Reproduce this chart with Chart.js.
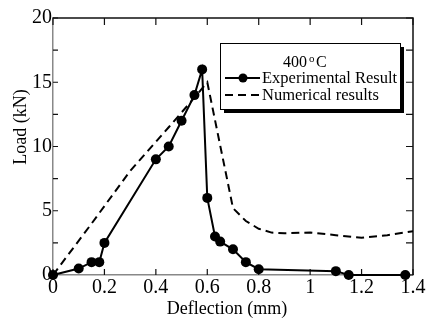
<!DOCTYPE html>
<html>
<head>
<meta charset="utf-8">
<script src="https://cdn.jsdelivr.net/npm/chart.js@4/dist/chart.umd.min.js"></script>
<style>
  html, body { margin: 0; padding: 0; background: #fff; }
</style>
</head>
<body>
<canvas id="myChart" width="430" height="326"></canvas>
<script>
// load-deflection curves at 400 C
var expX = [0, 0.1, 0.15, 0.18, 0.2, 0.4, 0.45, 0.5, 0.55, 0.58, 0.6, 0.63, 0.65, 0.7, 0.75, 0.8, 1.1, 1.15, 1.37];
var expY = [0, 0.5, 1, 1, 2.5, 9, 10, 12, 14, 16, 6, 3, 2.6, 2, 1, 0.45, 0.3, 0, 0];
var numX = [0, 0.15, 0.3, 0.45, 0.55, 0.6, 0.7, 0.75, 0.8, 0.85, 0.9, 1.0, 1.1, 1.2, 1.3, 1.4];
var numY = [0, 4.0, 8.1, 11.5, 13.8, 15, 5.2, 4.2, 3.6, 3.3, 3.25, 3.3, 3.1, 2.9, 3.1, 3.4];
var xTicks = [0, 0.2, 0.4, 0.6, 0.8, 1, 1.2, 1.4];
var yTicks = [0, 5, 10, 15, 20];
var yMinor = [2.5, 7.5, 12.5, 17.5];
var seriesNames = ['Experimental Result', 'Numerical results'];
var tempLabel = '400';
var xTitle = 'Deflection (mm)';
var yTitle = 'Load (kN)';

var serif = '"Liberation Serif", "Times New Roman", serif';

function pts(xs, ys) {
  return xs.map(function (x, i) { return { x: x, y: ys[i] }; });
}

// box, inward ticks on all four sides, titles and legend
var frame = {
  id: 'frame',
  beforeDatasetsDraw: function (chart) {
    var ctx = chart.ctx, a = chart.chartArea;
    var sx = chart.scales.x, sy = chart.scales.y;
    ctx.save();
    ctx.lineWidth = 1.5;
    ctx.strokeStyle = '#111';
    ctx.beginPath();
    ctx.moveTo(a.left, a.top); ctx.lineTo(a.right, a.top); ctx.lineTo(a.right, a.bottom);
    ctx.stroke();

    ctx.lineWidth = 1.2;
    ctx.beginPath();
    xTicks.forEach(function (v) {
      var px = sx.getPixelForValue(v);
      ctx.moveTo(px, a.bottom); ctx.lineTo(px, a.bottom - 6);
      ctx.moveTo(px, a.top); ctx.lineTo(px, a.top + 7);
    });
    yTicks.concat(yMinor).forEach(function (v) {
      var py = sy.getPixelForValue(v);
      ctx.moveTo(a.left, py); ctx.lineTo(a.left + 5, py);
      ctx.moveTo(a.right, py); ctx.lineTo(a.right - 7, py);
    });
    ctx.stroke();
    ctx.restore();
  },
  afterDraw: function (chart) {
    var ctx = chart.ctx;
    ctx.save();
    ctx.fillStyle = '#000';

    // axis titles
    ctx.font = '18px ' + serif;
    ctx.textAlign = 'center';
    ctx.textBaseline = 'middle';
    ctx.fillText(xTitle, 227, 309);
    ctx.translate(21, 127);
    ctx.rotate(-Math.PI / 2);
    ctx.fillText(yTitle, 0, 0);
    ctx.setTransform(1, 0, 0, 1, 0, 0);

    // legend box with shadow
    var bx = 220, by = 43, bw = 180, bh = 66;
    ctx.fillStyle = '#000';
    ctx.fillRect(bx + 4, by + 4, bw, bh);
    ctx.fillStyle = '#fff';
    ctx.fillRect(bx, by, bw, bh);
    ctx.strokeStyle = '#000';
    ctx.lineWidth = 1;
    ctx.strokeRect(bx + 0.5, by + 0.5, bw, bh);

    ctx.fillStyle = '#000';
    ctx.textAlign = 'left';
    ctx.textBaseline = 'alphabetic';
    ctx.font = '16px ' + serif;
    ctx.fillText(tempLabel, 283, 67);
    var w = ctx.measureText(tempLabel).width;
    ctx.font = '11px ' + serif;
    ctx.fillText('o', 283 + w + 2, 62);
    ctx.font = '16px ' + serif;
    ctx.fillText('C', 283 + w + 9, 67);

    ctx.strokeStyle = '#000';
    ctx.lineWidth = 2;
    ctx.beginPath();
    ctx.moveTo(225, 78); ctx.lineTo(260, 78);
    ctx.stroke();
    ctx.beginPath();
    ctx.arc(243, 78, 4.5, 0, Math.PI * 2);
    ctx.fill();
    ctx.font = '16.5px ' + serif;
    ctx.fillText(seriesNames[0], 262, 83);

    ctx.setLineDash([8, 5]);
    ctx.beginPath();
    ctx.moveTo(225, 95); ctx.lineTo(260, 95);
    ctx.stroke();
    ctx.setLineDash([]);
    ctx.fillText(seriesNames[1], 262, 100);
    ctx.restore();
  }
};

new Chart('myChart', {
  type: 'line',
  data: {
    datasets: [{
      label: seriesNames[0],
      data: pts(expX, expY),
      borderColor: '#000',
      backgroundColor: '#000',
      borderWidth: 2,
      pointRadius: 5,
      pointBackgroundColor: '#000',
      pointBorderWidth: 0,
      tension: 0,
      clip: false
    }, {
      label: seriesNames[1],
      data: pts(numX, numY),
      borderColor: '#000',
      borderWidth: 2,
      borderDash: [8, 5],
      pointRadius: 0,
      tension: 0,
      clip: false
    }]
  },
  options: {
    responsive: false,
    animation: false,
    devicePixelRatio: 1,
    layout: { padding: { top: 18, right: 17, left: 0, bottom: 0 } },
    plugins: {
      legend: { display: false },
      tooltip: { enabled: false }
    },
    scales: {
      x: {
        type: 'linear',
        min: 0,
        max: 1.4,
        afterBuildTicks: function (s) { s.ticks = xTicks.map(function (v) { return { value: v }; }); },
        afterFit: function (s) { s.height = 51; },
        grid: { display: false, drawTicks: false },
        border: { display: true, color: '#888', width: 1.5 },
        ticks: {
          color: '#000',
          padding: 1,
          maxRotation: 0,
          autoSkip: false,
          font: { family: serif, size: 20 },
          callback: function (v) { return String(v); }
        }
      },
      y: {
        min: 0,
        max: 20,
        afterBuildTicks: function (s) { s.ticks = yTicks.map(function (v) { return { value: v }; }); },
        afterFit: function (s) { s.width = 53; },
        grid: { display: false, drawTicks: false },
        border: { display: true, color: '#888', width: 1.5 },
        ticks: {
          color: '#000',
          padding: 1,
          autoSkip: false,
          font: { family: serif, size: 20 },
          callback: function (v) { return String(v); }
        }
      }
    }
  },
  plugins: [frame]
});
</script>
</body>
</html>
